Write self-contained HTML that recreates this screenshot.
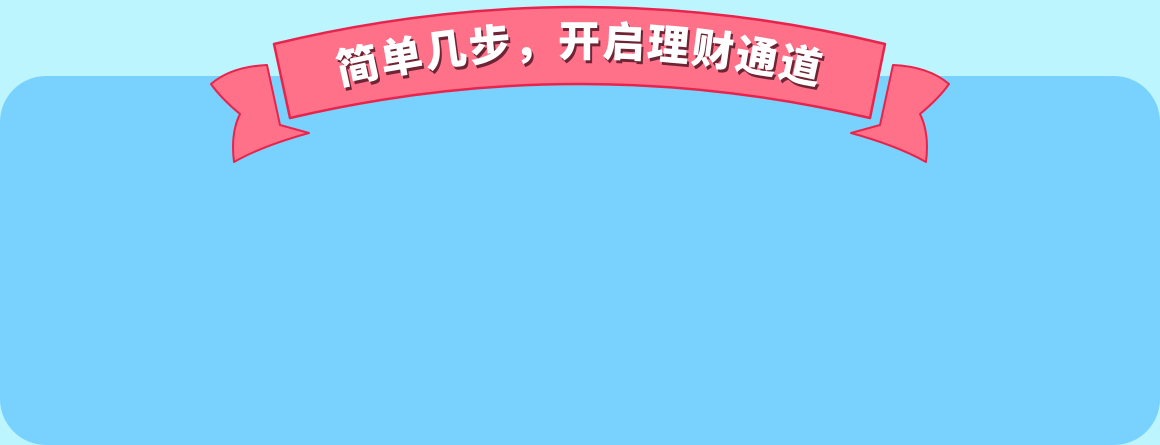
<!DOCTYPE html>
<html>
<head>
<meta charset="utf-8">
<style>
html,body{margin:0;padding:0;width:1160px;height:445px;overflow:hidden;background:#bcf5fe;}
#panel{position:absolute;left:0;top:76px;width:1160px;height:369px;background:#78d2fd;border-radius:46px;}
svg{position:absolute;left:0;top:0;}
</style>
</head>
<body>
<div id="panel"></div>
<svg width="1160" height="445" viewBox="0 0 1160 445">
  <g>
    <path d="M211,84 C225,72 245,66 267,65 L280,125 L309,133 C280,141 255,150 234,162 C232,146 233,128 240,114 C228,104 218,94 211,84 Z" fill="#fe7189" stroke="#e8244c" stroke-width="2" stroke-linejoin="round"/>
  </g>
  <g>
    <path d="M949,84 C935,72 915,66 893,65 L880,125 L851,133 C880,141 905,150 926,162 C928,146 927,128 920,114 C932,104 942,94 949,84 Z" fill="#fe7189" stroke="#e8244c" stroke-width="2" stroke-linejoin="round"/>
  </g>
  <g>
    <path d="M274,44 Q580,-30 885,44 L870,118 Q580,50 290,118 Z" fill="#fe7189" stroke="#e8244c" stroke-width="2.5" stroke-linejoin="round"/>
  </g>
  <defs>
    <path id="arc" d="M320,90 Q580,22 840,90"/>
  </defs>
  <text font-family="'Liberation Sans','Noto Sans CJK SC',sans-serif" font-weight="900" font-size="42" letter-spacing="2" fill="#6e2434" text-anchor="middle" transform="translate(2,3)"><textPath href="#arc" startOffset="50%">简单几步，开启理财通道</textPath></text>
  <text font-family="'Liberation Sans','Noto Sans CJK SC',sans-serif" font-weight="900" font-size="42" letter-spacing="2" fill="#ffffff" text-anchor="middle"><textPath href="#arc" startOffset="50%">简单几步，开启理财通道</textPath></text>
</svg>
</body>
</html>
